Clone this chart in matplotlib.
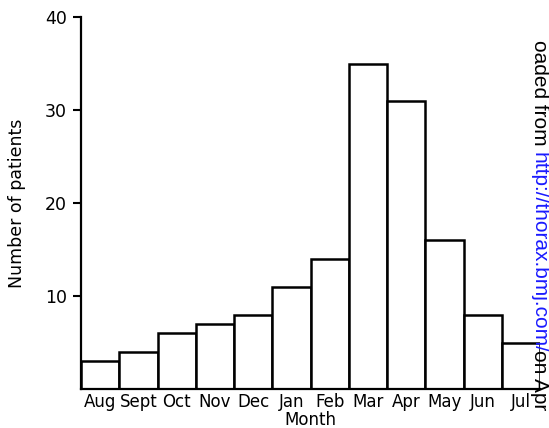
import numpy as np
import matplotlib
matplotlib.use('Agg')
import matplotlib.pyplot as plt

months = ['Aug', 'Sept', 'Oct', 'Nov', 'Dec', 'Jan', 'Feb',
          'Mar', 'Apr', 'May', 'Jun', 'Jul']
patients = [3, 4, 6, 7, 8, 11, 14, 35, 31, 16, 8, 5]
y_ticks = [10, 20, 30, 40]

W, H = 549, 428
fig = plt.figure(figsize=(W / 100, H / 100), dpi=100)
ax = fig.add_axes([81 / W, (H - 389) / H, (540 - 81) / W, (389 - 17) / H])

x = np.arange(len(months))
ax.bar(x, patients, width=1.0, color='white', edgecolor='black',
       linewidth=1.8, align='center', zorder=2)

ax.set_xlim(-0.5, len(months) - 0.5)
ax.set_ylim(0, 40)
ax.set_xticks(x)
ax.set_xticklabels(months, fontsize=12, family='DejaVu Sans')
ax.set_yticks(y_ticks)
ax.set_yticklabels([str(t) for t in y_ticks], fontsize=12.5, family='DejaVu Sans')
ax.tick_params(axis='x', length=0, pad=3)
ax.tick_params(axis='y', length=6, width=1.5, pad=4, direction='out')

for side in ['top', 'right']:
    ax.spines[side].set_visible(False)
for side in ['left', 'bottom']:
    ax.spines[side].set_linewidth(1.6)

ax.set_xlabel('Month', fontsize=12, family='DejaVu Sans', labelpad=0)
ax.set_ylabel('Number of patients', fontsize=12.5, family='DejaVu Sans', labelpad=14)

# download watermark running down the right edge
wm_x = 539 / W
fig.text(wm_x, 1 - 146 / H, 'oaded from', rotation=-90, ha='center',
         va='bottom', fontsize=15, family='Liberation Sans', color='black')
fig.text(wm_x, 1 - 152 / H, 'http://thorax.bmj.com/', rotation=-90,
         ha='center', va='top', fontsize=15, family='Liberation Sans',
         color='#1a1aff')
fig.text(wm_x, 1 - 350 / H, 'on Apr', rotation=-90, ha='center',
         va='top', fontsize=15, family='Liberation Sans', color='black')

fig.savefig('out.png', dpi=100)
